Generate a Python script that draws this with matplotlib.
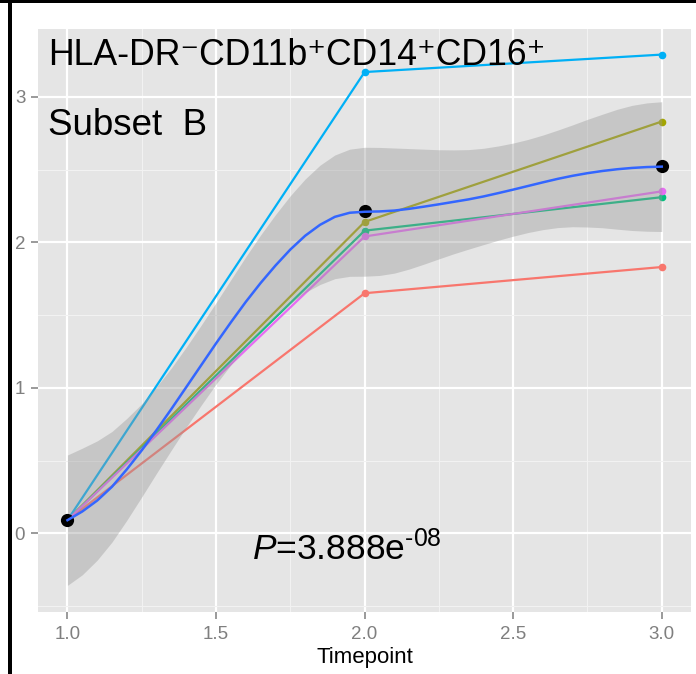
import matplotlib
import matplotlib.pyplot as plt
from matplotlib.patches import Rectangle
import numpy as np

matplotlib.use('Agg')

plt.rcParams['font.family'] = ['Liberation Sans', 'DejaVu Sans']
plt.rcParams['mathtext.fontset'] = 'custom'
plt.rcParams['mathtext.rm'] = 'Liberation Sans'
plt.rcParams['mathtext.it'] = 'Liberation Sans:italic'

# per-subject values at each timepoint
timepoints = [1.0, 2.0, 3.0]
subject_colors = ['#F8766D', '#A3A500', '#00BF7D', '#00B0F6', '#E76BF3']
subject_values = [
    [0.09, 1.65, 1.83],
    [0.09, 2.14, 2.83],
    [0.09, 2.08, 2.31],
    [0.09, 3.17, 3.29],
    [0.09, 2.04, 2.35],
]

# loess fit and band half-width
smooth_x = [1.00, 1.05, 1.10, 1.15, 1.20, 1.25, 1.30, 1.35, 1.40, 1.45, 1.50,
            1.55, 1.60, 1.65, 1.70, 1.75, 1.80, 1.85, 1.90, 1.95, 2.00,
            2.05, 2.10, 2.15, 2.20, 2.25, 2.30, 2.35, 2.40, 2.45, 2.50,
            2.55, 2.60, 2.65, 2.70, 2.75, 2.80, 2.85, 2.90, 2.95, 3.00]
smooth_fit = [0.090, 0.150, 0.225, 0.320, 0.440, 0.570, 0.710, 0.855, 1.005, 1.155, 1.305,
              1.450, 1.590, 1.720, 1.840, 1.950, 2.045, 2.120, 2.175, 2.203, 2.210,
              2.212, 2.218, 2.230, 2.245, 2.261, 2.278, 2.295, 2.315, 2.338, 2.362,
              2.387, 2.412, 2.436, 2.457, 2.475, 2.490, 2.502, 2.511, 2.517, 2.520]
smooth_band = [0.448, 0.435, 0.410, 0.380, 0.350, 0.320, 0.297, 0.282, 0.275, 0.275, 0.280,
               0.293, 0.310, 0.330, 0.350, 0.370, 0.390, 0.410, 0.425, 0.437, 0.443,
               0.440, 0.430, 0.414, 0.395, 0.375, 0.357, 0.342, 0.331, 0.324, 0.320,
               0.320, 0.325, 0.335, 0.350, 0.370, 0.390, 0.412, 0.430, 0.441, 0.446]

title_text = 'HLA-DR\u207bCD11b\u207aCD14\u207aCD16\u207a'
subset_text = 'Subset  B'
p_text = r'$\mathit{P}$=3.888e$^{\text{-08}}$'

fig = plt.figure(figsize=(6.96, 6.74), dpi=100, facecolor='white')
ax = fig.add_axes([0.0542, 0.0924, 0.9393, 0.8646])
ax.set_facecolor('#E5E5E5')

for vals, col in zip(subject_values, subject_colors):
    ax.plot(timepoints, vals, color=col, linewidth=1.6, marker='o', markersize=5.5,
            markeredgewidth=0, zorder=3)

fit = np.array(smooth_fit)
band = np.array(smooth_band)
ax.fill_between(smooth_x, fit - band, fit + band, color='#999999', alpha=0.4,
                linewidth=0, zorder=4)

means = np.mean(np.array(subject_values), axis=0)
ax.plot(timepoints, means, linestyle='none', marker='o', markersize=9.5,
        color='black', markeredgewidth=0, zorder=5)
ax.plot(smooth_x, smooth_fit, color='#3366FF', linewidth=1.8, zorder=6)

ax.set_xlim(0.9, 3.1)
ax.set_ylim(-0.539, 3.466)
ax.set_xticks([1.0, 1.5, 2.0, 2.5, 3.0])
ax.set_xticklabels(['1.0', '1.5', '2.0', '2.5', '3.0'])
ax.set_yticks([0, 1, 2, 3])
ax.set_xticks([1.25, 1.75, 2.25, 2.75], minor=True)
ax.set_yticks([-0.5, 0.5, 1.5, 2.5], minor=True)
ax.grid(which='major', color='white', linewidth=1.6, zorder=1)
ax.grid(which='minor', color='#F2F2F2', linewidth=0.8, zorder=1)
ax.set_axisbelow(True)
for s in ax.spines.values():
    s.set_visible(False)
ax.tick_params(which='major', length=5, width=1.1, color='#7F7F7F',
               labelcolor='#7F7F7F', labelsize=13.5, pad=5)
ax.tick_params(axis='y', pad=4)
ax.tick_params(which='minor', length=0)
ax.set_xlabel('Timepoint', fontsize=16, color='black', labelpad=3)

ax.text(0.935, 3.219, title_text, fontsize=25.7, va='baseline', ha='left', zorder=7)
ax.text(0.935, 2.739, subset_text, fontsize=26.5, va='baseline', ha='left', zorder=7)
ax.text(1.622, -0.183, p_text, fontsize=25.5, va='baseline', ha='left', zorder=7)

# black frame pieces at the top and left edge
fig.add_artist(Rectangle((0, 1 - 3.4 / 674), 1, 3.4 / 674, transform=fig.transFigure,
                         color='black', linewidth=0))
fig.add_artist(Rectangle((8 / 696, 0), 4.2 / 696, 1, transform=fig.transFigure,
                         color='black', linewidth=0))

fig.savefig('out.png', dpi=100)
